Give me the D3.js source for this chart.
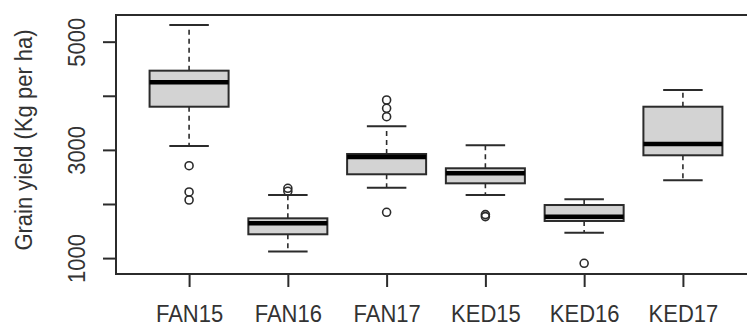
<!DOCTYPE html>
<html>
<head>
<meta charset="utf-8">
<script src="https://cdn.jsdelivr.net/npm/d3@7"></script>
<style>
  body { margin: 0; background: #fff; }
  text { font-family: "Liberation Sans", Arial, sans-serif; fill: #333; }
</style>
</head>
<body>
<div class="canvas"></div>
<script>
// Data (Kg per ha)
var groups = ['FAN15', 'FAN16', 'FAN17', 'KED15', 'KED16', 'KED17'];
var lowerWhisker = [3072, 1122, 2301, 2166, 1469, 2438];
var q1 = [3798, 1440, 2549, 2382, 1686, 2900];
var median = [4249, 1643, 2868, 2567, 1765, 3109];
var q3 = [4464, 1735, 2924, 2660, 1981, 3798];
var upperWhisker = [5308, 2166, 3436, 3085, 2087, 4107];
var outliers = [
  [2708, 2222, 2074],
  [2290, 2235],
  [3922, 3769, 3613, 1846],
  [1804, 1767],
  [904],
  []
];
var yTicks = [1000, 2000, 3000, 4000, 5000];
var yLabelled = [1000, 3000, 5000];
var yLimits = [706, 5493];

var width = 747, height = 326;
var svg = d3.select('.canvas').append('svg').attr('width', width).attr('height', height);

// Plot region (right edge runs past the picture, like the source)
var plot = { left: 116, top: 15, right: 756, bottom: 274 };

var x = d3.scalePoint().domain(groups).range([plot.left, plot.right]).padding(0.74);
var y = d3.scaleLinear().domain(yLimits).range([plot.bottom, plot.top]);

var boxW = x.step() * 0.8;
var ink = '#2b2b2b';
var fontSize = '22px';
var stretch = 1.12; // glyphs in the source look a little tall

var data = groups.map(function (g, i) {
  return { name: g, lo: lowerWhisker[i], q1: q1[i], med: median[i], q3: q3[i], hi: upperWhisker[i], out: outliers[i] };
});

var boxes = svg.selectAll('g.box').data(data).enter().append('g').attr('class', 'box');

// Whiskers (dashed)
boxes.append('line')
  .attr('x1', function (d) { return x(d.name); }).attr('x2', function (d) { return x(d.name); })
  .attr('y1', function (d) { return y(d.q3); }).attr('y2', function (d) { return y(d.hi); })
  .attr('stroke', ink).attr('stroke-width', 1.6).attr('stroke-dasharray', '5,4');
boxes.append('line')
  .attr('x1', function (d) { return x(d.name); }).attr('x2', function (d) { return x(d.name); })
  .attr('y1', function (d) { return y(d.q1); }).attr('y2', function (d) { return y(d.lo); })
  .attr('stroke', ink).attr('stroke-width', 1.6).attr('stroke-dasharray', '5,4');

// Whisker caps
['hi', 'lo'].forEach(function (k) {
  boxes.append('line')
    .attr('x1', function (d) { return x(d.name) - boxW / 4; })
    .attr('x2', function (d) { return x(d.name) + boxW / 4; })
    .attr('y1', function (d) { return y(d[k]); }).attr('y2', function (d) { return y(d[k]); })
    .attr('stroke', ink).attr('stroke-width', 2);
});

// Boxes
boxes.append('rect')
  .attr('x', function (d) { return x(d.name) - boxW / 2; })
  .attr('width', boxW)
  .attr('y', function (d) { return y(d.q3); })
  .attr('height', function (d) { return y(d.q1) - y(d.q3); })
  .attr('fill', '#d3d3d3').attr('stroke', ink).attr('stroke-width', 2);

// Medians
boxes.append('line')
  .attr('x1', function (d) { return x(d.name) - boxW / 2; })
  .attr('x2', function (d) { return x(d.name) + boxW / 2; })
  .attr('y1', function (d) { return y(d.med); }).attr('y2', function (d) { return y(d.med); })
  .attr('stroke', '#000').attr('stroke-width', 4.5);

// Outliers
boxes.selectAll('circle').data(function (d) {
  return d.out.map(function (v) { return { name: d.name, v: v }; });
}).enter().append('circle')
  .attr('cx', function (d) { return x(d.name); })
  .attr('cy', function (d) { return y(d.v); })
  .attr('r', 4).attr('fill', 'none').attr('stroke', ink).attr('stroke-width', 1.6);

// Frame
svg.append('rect')
  .attr('x', plot.left).attr('y', plot.top)
  .attr('width', plot.right - plot.left).attr('height', plot.bottom - plot.top)
  .attr('fill', 'none').attr('stroke', ink).attr('stroke-width', 2);

// X axis
var xAxisGroup = svg.append('g').attr('transform', 'translate(0,' + plot.bottom + ')')
  .call(d3.axisBottom(x).tickSize(13));
xAxisGroup.select('.domain').remove();
xAxisGroup.selectAll('line').attr('stroke', ink).attr('stroke-width', 2);
xAxisGroup.selectAll('text').attr('y', 0).attr('dy', 0)
  .attr('transform', 'translate(0,48) scale(1,' + stretch + ')')
  .style('font-size', fontSize).style('font-family', '"Liberation Sans", Arial, sans-serif').attr('fill', '#333');

// Y axis
var yAxisGroup = svg.append('g').attr('transform', 'translate(' + plot.left + ',0)')
  .call(d3.axisLeft(y).tickValues(yTicks).tickSize(13).tickFormat(function (d) {
    return yLabelled.indexOf(d) >= 0 ? d : '';
  }));
yAxisGroup.select('.domain').remove();
yAxisGroup.selectAll('line').attr('stroke', ink).attr('stroke-width', 2);
yAxisGroup.selectAll('text')
  .attr('x', 0).attr('dy', 0).attr('text-anchor', 'middle')
  .attr('transform', 'translate(-31,0) rotate(-90) scale(1,' + stretch + ')')
  .style('font-size', fontSize).style('font-family', '"Liberation Sans", Arial, sans-serif').attr('fill', '#333');

// Y title
svg.append('text')
  .attr('transform', 'translate(32,140) rotate(-90) scale(1,' + stretch + ')')
  .attr('text-anchor', 'middle')
  .style('font-size', fontSize)
  .text('Grain yield (Kg per ha)');
</script>
</body>
</html>
